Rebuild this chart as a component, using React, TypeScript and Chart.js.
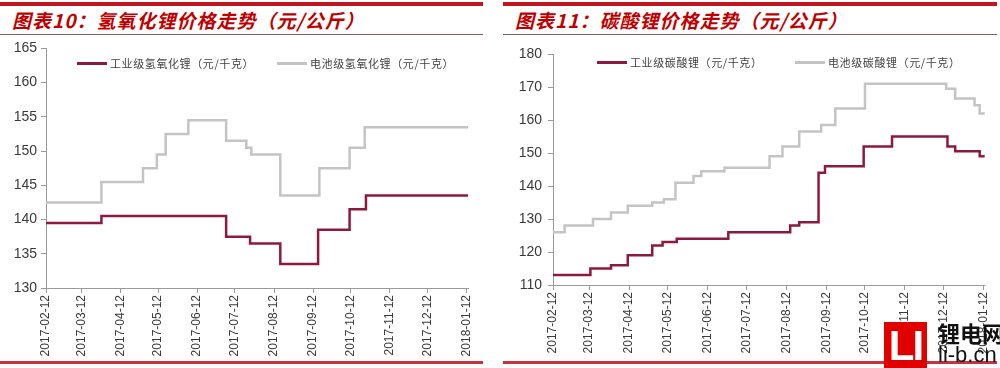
import React, { useEffect, useRef } from "react";
import { Chart, registerables } from "chart.js";

Chart.register(...registerables);

// ---- shared x axis (days since 2017-02-12) ----
const tickDays = [0, 28, 59, 89, 120, 150, 181, 212, 242, 273, 303, 334];
const tickLabels = [
  "2017-02-12", "2017-03-12", "2017-04-12", "2017-05-12", "2017-06-12", "2017-07-12",
  "2017-08-12", "2017-09-12", "2017-10-12", "2017-11-12", "2017-12-12", "2018-01-12",
];
const lastDay = 335;

// ---- chart 10: lithium hydroxide ----
const title10 = "图表10：氢氧化锂价格走势（元/公斤）";
const lohIndName = "工业级氢氧化锂（元/千克）";
const lohIndDays = [0, 44, 143, 162, 186, 216, 241, 254, 335];
const lohIndVals = [139.5, 140.5, 137.5, 136.5, 133.5, 138.5, 141.5, 143.5, 143.5];
const lohBatName = "电池级氢氧化锂（元/千克）";
const lohBatDays = [0, 44, 77, 88, 95, 113, 143, 159, 163, 186, 217, 241, 253, 335];
const lohBatVals = [142.5, 145.5, 147.5, 149.5, 152.5, 154.5, 151.5, 150.5, 149.5, 143.5, 147.5, 150.5, 153.5, 153.5];
const yTicks10 = { min: 130, max: 165, step: 5 };

// ---- chart 11: lithium carbonate ----
const title11 = "图表11：碳酸锂价格走势（元/公斤）";
const lcIndName = "工业级碳酸锂（元/千克）";
const lcIndDays = [0, 29, 45, 58, 77, 85, 96, 136, 184, 191, 206, 211, 241, 263, 306, 312, 331, 335];
const lcIndVals = [113, 115, 116, 119, 122, 123, 124, 126, 128, 129, 144, 146, 152, 155, 152, 150.5, 149, 149];
const lcBatName = "电池级碳酸锂（元/千克）";
const lcBatDays = [0, 9, 31, 45, 58, 77, 86, 95, 109, 115, 133, 168, 178, 191, 208, 219, 242, 305, 312, 327, 331, 335];
const lcBatVals = [126, 128, 130, 132, 134, 135, 136, 141, 143, 144.5, 145.5, 149, 152, 156.5, 158.5, 163.5, 171, 169.5, 166.5, 164.5, 162, 162];
const yTicks11 = { min: 110, max: 180, step: 10 };

const RED = "#8c1a3c";
const GRAY = "#c4c4c4";
const AXIS = "#9a9a9a";
const LABEL = "#3a3a3a";

const toPoints = (days: number[], vals: number[]) => days.map((d, i) => ({ x: d, y: vals[i] }));

type Series = { name: string; days: number[]; vals: number[]; color: string };

function makeConfig(series: Series[], yr: { min: number; max: number; step: number }, pad: { top: number; right: number }, yWidth: number, xHeight: number, yPad: number): any {
  return {
    type: "line",
    data: {
      datasets: series.map((s) => ({
        label: s.name,
        data: toPoints(s.days, s.vals),
        borderColor: s.color,
        backgroundColor: s.color,
        borderWidth: 2.5,
        pointRadius: 0,
        stepped: "before",
        fill: false,
      })),
    },
    options: {
      animation: false,
      responsive: false,
      maintainAspectRatio: false,
      layout: { padding: { top: pad.top, right: pad.right, left: 0, bottom: 0 } },
      plugins: { legend: { display: false }, tooltip: { enabled: false } },
      scales: {
        x: {
          type: "linear",
          min: 0,
          max: lastDay,
          afterBuildTicks: (s: any) => {
            s.ticks = tickDays.map((v) => ({ value: v }));
          },
          afterFit: (s: any) => {
            s.height = xHeight;
          },
          ticks: {
            autoSkip: false,
            minRotation: 90,
            maxRotation: 90,
            padding: 2,
            color: LABEL,
            font: { family: "'Liberation Sans', Arial, sans-serif", size: 12 },
            callback: (v: number) => tickLabels[tickDays.indexOf(v)] ?? "",
          },
          grid: { drawOnChartArea: false, drawTicks: true, tickLength: 5, color: AXIS },
          border: { display: true, color: AXIS, width: 1 },
        },
        y: {
          type: "linear",
          min: yr.min,
          max: yr.max,
          afterFit: (s: any) => {
            s.width = yWidth;
          },
          ticks: {
            stepSize: yr.step,
            padding: yPad,
            color: LABEL,
            font: { family: "'Liberation Sans', Arial, sans-serif", size: 14 },
          },
          grid: { drawOnChartArea: false, drawTicks: true, tickLength: 5, color: AXIS },
          border: { display: true, color: AXIS, width: 1 },
        },
      },
    },
  };
}

function LineChart(props: { cfg: any; width: number; height: number; left: number; top: number }) {
  const ref = useRef<HTMLCanvasElement | null>(null);
  useEffect(() => {
    if (!ref.current) return;
    const chart = new Chart(ref.current, props.cfg);
    return () => chart.destroy();
  }, []);
  return (
    <canvas
      ref={ref}
      width={props.width}
      height={props.height}
      style={{ position: "absolute", left: props.left, top: props.top, width: props.width, height: props.height }}
    />
  );
}

function Legend(props: { items: { name: string; color: string; x: number }[]; y: number }) {
  return (
    <>
      {props.items.map((it) => (
        <div
          key={it.name}
          style={{
            position: "absolute",
            left: it.x,
            top: props.y - 8,
            height: 16,
            display: "flex",
            alignItems: "center",
            whiteSpace: "nowrap",
          }}
        >
          <span style={{ display: "inline-block", width: 30, height: 3, background: it.color, marginRight: 3 }} />
          <span style={{ fontFamily: "'Noto Sans CJK SC', sans-serif", fontSize: 11, color: "#444", letterSpacing: 0.6 }}>{it.name}</span>
        </div>
      ))}
    </>
  );
}

function Frame(props: { left: number; width: number; title: string }) {
  const { left, width, title } = props;
  return (
    <>
      <div style={{ position: "absolute", left, top: 2, width, height: 4, background: "#c0141e" }} />
      <div
        style={{
          position: "absolute",
          left: left + 12,
          top: 7,
          fontFamily: "'Noto Sans CJK SC', sans-serif",
          fontStyle: "italic",
          fontWeight: 700,
          fontSize: 19,
          lineHeight: "26px",
          letterSpacing: 1,
          color: "#c00000",
          whiteSpace: "nowrap",
        }}
      >
        {title}
      </div>
      <div style={{ position: "absolute", left, top: 34, width, height: 1, background: "#8a5a5a" }} />
      <div style={{ position: "absolute", left, top: 361, width, height: 3, background: "#c83240" }} />
    </>
  );
}

export default function App() {
  const cfg10 = makeConfig(
    [
      { name: lohIndName, days: lohIndDays, vals: lohIndVals, color: RED },
      { name: lohBatName, days: lohBatDays, vals: lohBatVals, color: GRAY },
    ],
    yTicks10,
    { top: 12, right: 22 },
    46,
    74,
    4
  );
  const cfg11 = makeConfig(
    [
      { name: lcIndName, days: lcIndDays, vals: lcIndVals, color: RED },
      { name: lcBatName, days: lcBatDays, vals: lcBatVals, color: GRAY },
    ],
    yTicks11,
    { top: 18, right: 14 },
    53,
    77,
    6
  );
  return (
    <div style={{ position: "absolute", left: 0, top: 0, width: 1000, height: 368, background: "#ffffff", overflow: "hidden" }}>
      <Frame left={0} width={483} title={title10} />
      <Frame left={503} width={494} title={title11} />
      <LineChart cfg={cfg10} width={490} height={326} left={0} top={36} />
      <LineChart cfg={cfg11} width={500} height={326} left={500} top={36} />
      <Legend
        y={63}
        items={[
          { name: lohIndName, color: RED, x: 77 },
          { name: lohBatName, color: GRAY, x: 277 },
        ]}
      />
      <Legend
        y={62}
        items={[
          { name: lcIndName, color: RED, x: 597 },
          { name: lcBatName, color: GRAY, x: 795 },
        ]}
      />
      {/* source watermark */}
      <div style={{ position: "absolute", left: 884, top: 322, width: 43, height: 46, background: "#e00000", color: "#fff", fontFamily: "'Liberation Sans', Arial, sans-serif", fontWeight: 700, fontSize: 42, lineHeight: "48px", textAlign: "center", letterSpacing: -2 }}>LI</div>
      <div style={{ position: "absolute", left: 938, top: 318, fontFamily: "'Noto Sans CJK SC', sans-serif", fontWeight: 700, fontSize: 22, lineHeight: "28px", color: "#111", whiteSpace: "nowrap" }}>锂电网</div>
      <div style={{ position: "absolute", left: 938, top: 342, fontFamily: "'Liberation Sans', Arial, sans-serif", fontSize: 22, lineHeight: "26px", color: "#111", whiteSpace: "nowrap" }}>li-b.cn</div>
    </div>
  );
}
